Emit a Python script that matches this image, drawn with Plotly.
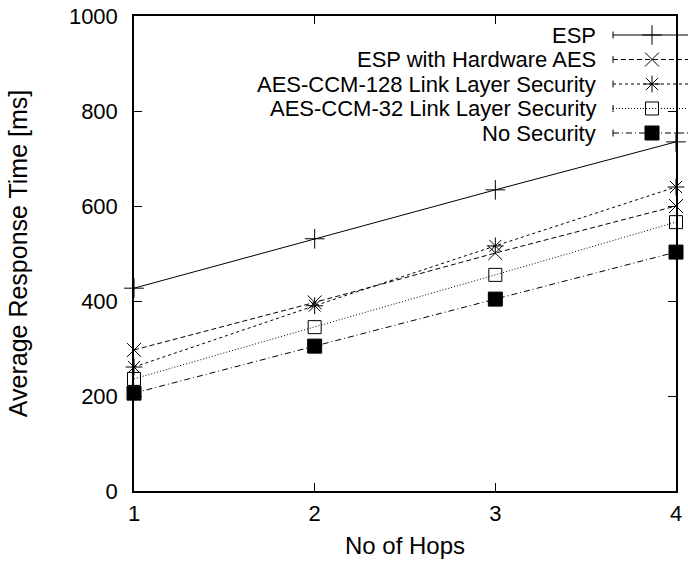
import plotly.graph_objects as go

# ---- data ----
hops = [1, 2, 3, 4]
esp = [427, 531, 634, 735]
esp_hw = [297, 397, 501, 600]
ccm128 = [261, 390, 516, 640]
ccm32 = [236, 345, 455, 566]
nosec = [206, 305, 404, 503]

series_names = ["ESP", "ESP with Hardware AES", "AES-CCM-128 Link Layer Security",
                "AES-CCM-32 Link Layer Security", "No Security"]
series_values = [esp, esp_hw, ccm128, ccm32, nosec]

# ---- styles ----
symbols = ["cross-thin-open", "x-thin-open", "asterisk-open", "square-open", "square"]
dashes = ["solid", "5px,3px", "3px,3px", "1px,2px", "6px,3px,1px,3px"]
msizes = [14, 14, 14, 13, 14]

FONT = "Liberation Sans, Arial, Helvetica, sans-serif"
W, H = 688, 567
ML, MR, MT, MB = 134, 12, 16, 76
PW, PH = W - ML - MR, H - MT - MB

fig = go.Figure()
for name, vals, sym, dash, ms in zip(series_names, series_values, symbols, dashes, msizes):
    fig.add_trace(go.Scatter(
        x=hops, y=vals, name=name, mode="lines+markers",
        line=dict(color="black", width=1, dash=dash),
        marker=dict(symbol=sym, size=ms, color="black",
                    line=dict(color="black", width=1)),
        cliponaxis=False, showlegend=False))

# ---- manual key (gnuplot style: text right, sample left->right) ----
def px_x(p):
    return (p - ML) / PW

def px_y(p):
    return 1 - (p - MT) / PH

key_text_right = 598
key_line_x0, key_line_x1, key_mark_x = 613, 700, 652
key_rows = [35, 59.5, 84, 108.5, 133]

for name, sym, dash, ms, ry in zip(series_names, symbols, dashes, msizes, key_rows):
    fig.add_annotation(x=px_x(key_text_right), y=px_y(ry), xref="paper", yref="paper",
                       text=name, showarrow=False, xanchor="right", yanchor="middle",
                       font=dict(family=FONT, size=22, color="black"))
    fig.add_shape(type="line", xref="paper", yref="paper",
                  x0=px_x(key_line_x0), x1=px_x(key_line_x1), y0=px_y(ry), y1=px_y(ry),
                  line=dict(color="black", width=1, dash=dash))
    fig.add_shape(type="line", xref="paper", yref="paper",
                  x0=px_x(key_line_x0), x1=px_x(key_line_x0), y0=px_y(ry - 3.5), y1=px_y(ry + 3.5),
                  line=dict(color="black", width=1))
    fig.add_trace(go.Scatter(
        x=[key_mark_x], y=[ry], xaxis="x2", yaxis="y2", mode="markers",
        marker=dict(symbol=sym, size=ms, color="black", line=dict(color="black", width=1)),
        cliponaxis=False, showlegend=False, hoverinfo="skip"))

axis_common = dict(
    showline=True, linecolor="black", linewidth=1.5, mirror="ticks",
    ticks="inside", ticklen=8, tickwidth=1, tickcolor="black",
    showgrid=False, zeroline=False, automargin=False,
    tickfont=dict(family=FONT, size=22, color="black"),
)

fig.update_layout(
    width=W, height=H,
    margin=dict(l=ML, r=MR, t=MT, b=MB, autoexpand=False),
    paper_bgcolor="white", plot_bgcolor="white",
    font=dict(family=FONT, size=22, color="black"),
    xaxis=dict(range=[1, 4], tickvals=[1, 2, 3, 4], ticklabelstandoff=2,
               title=dict(text="No of Hops", font=dict(family=FONT, size=24), standoff=12),
               **axis_common),
    yaxis=dict(range=[0, 1000], tickvals=[0, 200, 400, 600, 800, 1000], ticklabelstandoff=10,
               title=dict(text="Average Response Time [ms]", font=dict(family=FONT, size=25), standoff=34),
               **axis_common),
    xaxis2=dict(overlaying="x", range=[ML, W - MR], visible=False, fixedrange=True),
    yaxis2=dict(overlaying="y", range=[H - MB, MT], visible=False, fixedrange=True),
    showlegend=False,
)

fig.write_html("out.html")
